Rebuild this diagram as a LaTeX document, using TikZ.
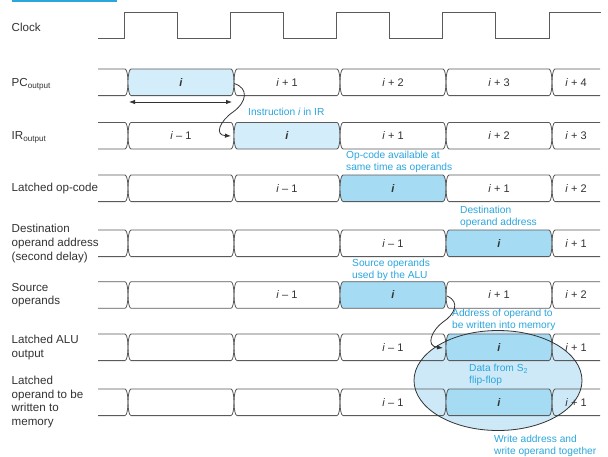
\documentclass[tikz,border=0pt]{standalone}
\usepackage{fontspec}
\setmainfont{Liberation Sans}
\usetikzlibrary{arrows.meta}
\definecolor{lineg}{HTML}{5A5A5A}
\definecolor{lightc}{HTML}{D3EDFA}
\definecolor{medc}{HTML}{A6DBF4}
\definecolor{ellc}{HTML}{CDE9F8}
\definecolor{bluet}{HTML}{2BA6DE}
\definecolor{txt}{HTML}{333333}
\tikzset{
  busline/.style={draw=lineg, line width=0.8pt},
  celltext/.style={text=txt, inner sep=0pt, font=\fontsize{11}{13}\selectfont},
  lab/.style={text=txt, inner sep=0pt, anchor=west, align=left, font=\fontsize{11.6}{13.8}\selectfont},
  note/.style={text=bluet, inner sep=0pt, anchor=west, align=left, font=\fontsize{10.2}{11.8}\selectfont},
  arr/.style={draw=txt, line width=0.8pt, -{Latex[length=6pt,width=4.5pt]}},
}
\newcommand\vi{\textit{i}}
\newcommand\vib{\textbf{\textit{i}}}
% interior cell: #1 left x, #2 right x, #3 mid y, #4 fill, #5 name, #6 text
\newcommand\midcell[6]{%
  \path[busline,fill=#4] ({#1+3},{#3-13.3}) -- ({#2-3},{#3-13.3})
    .. controls ({#2-1},{#3-13.3}) and (#2,{#3-6}) .. (#2,#3)
    .. controls (#2,{#3+6}) and ({#2-1},{#3+13.3}) .. ({#2-3},{#3+13.3})
    -- ({#1+3},{#3+13.3})
    .. controls ({#1+1},{#3+13.3}) and (#1,{#3+6}) .. (#1,#3)
    .. controls (#1,{#3-6}) and ({#1+1},{#3-13.3}) .. cycle;
  \node[celltext] (#5) at ({(#1+#2)/2},#3) {#6};
}
% first (open-left) cell: #1 right x, #2 mid y
\newcommand\firstcell[2]{%
  \draw[busline] (98,{#2-13.3}) -- ({#1-3},{#2-13.3})
    .. controls ({#1-1},{#2-13.3}) and (#1,{#2-6}) .. (#1,#2)
    .. controls (#1,{#2+6}) and ({#1-1},{#2+13.3}) .. ({#1-3},{#2+13.3})
    -- (98,{#2+13.3});
}
% last (open-right) cell: #1 left x, #2 mid y, #3 name, #4 text
\newcommand\lastcell[4]{%
  \draw[busline] (600,{#2-13.3}) -- ({#1+3},{#2-13.3})
    .. controls ({#1+1},{#2-13.3}) and (#1,{#2-6}) .. (#1,#2)
    .. controls (#1,{#2+6}) and ({#1+1},{#2+13.3}) .. ({#1+3},{#2+13.3})
    -- (600,{#2+13.3});
  \node[celltext] (#3) at ({(#1+600)/2},#2) {#4};
}
\begin{document}
\begin{tikzpicture}[x=1pt,y=-1pt]
\useasboundingbox (0,0) rectangle (608,456);
\fill[white] (0,0) rectangle (608,456);
\fill[bluet] (12,0) rectangle (117,2.2);

% ellipse background
\fill[ellc] (498,380.5) ellipse [x radius=84, y radius=50];

% clock
\draw[busline] (98,38.3) -- (124.5,38.3) -- (124.5,12.3) -- (177.5,12.3) -- (177.5,38.3)
  -- (230.7,38.3) -- (230.7,12.3) -- (283.5,12.3) -- (283.5,38.3)
  -- (336.3,38.3) -- (336.3,12.3) -- (389.5,12.3) -- (389.5,38.3)
  -- (442.3,38.3) -- (442.3,12.3) -- (495.7,12.3) -- (495.7,38.3)
  -- (549,38.3) -- (549,12.3) -- (600.5,12.3);

% PC output
\firstcell{128}{82.3}
\midcell{128}{234}{82.3}{lightc}{pc1}{\vib}
\midcell{234}{340}{82.3}{none}{pc2}{\vi{} + 1}
\midcell{340}{446}{82.3}{none}{pc3}{\vi{} + 2}
\midcell{446}{552}{82.3}{none}{pc4}{\vi{} + 3}
\lastcell{552}{82.3}{pc5}{\vi{} + 4}

% IR output
\firstcell{128}{135.7}
\midcell{128}{234}{135.7}{none}{ir1}{\vi{} – 1}
\midcell{234}{340}{135.7}{lightc}{ir2}{\vib}
\midcell{340}{446}{135.7}{none}{ir3}{\vi{} + 1}
\midcell{446}{552}{135.7}{none}{ir4}{\vi{} + 2}
\lastcell{552}{135.7}{ir5}{\vi{} + 3}

% Latched op-code
\firstcell{128}{188.3}
\midcell{128}{234}{188.3}{none}{op1}{}
\midcell{234}{340}{188.3}{none}{op2}{\vi{} – 1}
\midcell{340}{446}{188.3}{medc}{op3}{\vib}
\midcell{446}{552}{188.3}{none}{op4}{\vi{} + 1}
\lastcell{552}{188.3}{op5}{\vi{} + 2}

% Destination operand address
\firstcell{128}{243.3}
\midcell{128}{234}{243.3}{none}{ds1}{}
\midcell{234}{340}{243.3}{none}{ds2}{}
\midcell{340}{446}{243.3}{none}{ds3}{\vi{} – 1}
\midcell{446}{552}{243.3}{medc}{ds4}{\vib}
\lastcell{552}{243.3}{ds5}{\vi{} + 1}

% Source operands
\firstcell{128}{295}
\midcell{128}{234}{295}{none}{so1}{}
\midcell{234}{340}{295}{none}{so2}{\vi{} – 1}
\midcell{340}{446}{295}{medc}{so3}{\vib}
\midcell{446}{552}{295}{none}{so4}{\vi{} + 1}
\lastcell{552}{295}{so5}{\vi{} + 2}

% Latched ALU output
\firstcell{128}{347.3}
\midcell{128}{234}{347.3}{none}{al1}{}
\midcell{234}{340}{347.3}{none}{al2}{}
\midcell{340}{446}{347.3}{none}{al3}{\vi{} – 1}
\midcell{446}{552}{347.3}{medc}{al4}{\vib}
\lastcell{552}{347.3}{al5}{\vi{} + 1}

% Latched operand to be written to memory
\firstcell{128}{402.3}
\midcell{128}{234}{402.3}{none}{wm1}{}
\midcell{234}{340}{402.3}{none}{wm2}{}
\midcell{340}{446}{402.3}{none}{wm3}{\vi{} – 1}
\midcell{446}{552}{402.3}{medc}{wm4}{\vib}
\lastcell{552}{402.3}{wm5}{\vi{} + 1}

% ellipse outline
\draw[draw=txt, line width=0.8pt] (498,380.5) ellipse [x radius=84, y radius=50];

% left labels
\node[lab] (lclk) at (11.5,27.5) {Clock};
\node[lab] (lpc) at (11.5,84) {PC\textsubscript{output}};
\node[lab] (lir) at (11.5,137) {IR\textsubscript{output}};
\node[lab] (lop) at (11.5,188.3) {Latched op-code};
\node[lab] (lds) at (11.5,243.3) {Destination\\operand address\\(second delay)};
\node[lab] (lso) at (11.5,295.2) {Source\\operands};
\node[lab] (lal) at (11.5,347.5) {Latched ALU\\output};
\node[lab] (lwm) at (11.5,402) {Latched\\operand to be\\written to\\memory};

% blue notes
\node[note] (n1) at (248,112) {Instruction \vi{} in IR};
\node[note] (n2) at (346,161.5) {Op-code available at\\same time as operands};
\node[note] (n3) at (460,216.5) {Destination\\operand address};
\node[note] (n4) at (352,270) {Source operands\\used by the ALU};
\node[note] (n5) at (452,320) {Address of operand to\\be written into memory};
\node[note] (n6) at (469,375) {Data from S\textsubscript{2}\\flip-flop};
\node[note] (n7) at (494,445.5) {Write address and\\write operand together};

% arrows
\coordinate (d1) at (129,102);
\coordinate (d2) at (232,102);
\draw[arr, {Latex[length=6pt,width=4.5pt]}-{Latex[length=6pt,width=4.5pt]}] (d1) -- (d2);

\coordinate (a1s) at (234,83.5);
\coordinate (a1e) at (231,136);
\draw[arr] (a1s) .. controls (249,88) and (247,102) .. (233,112)
  .. controls (220,121) and (214,135) .. (a1e);

\coordinate (a2s) at (447,296);
\coordinate (a2e) at (443,348);
\draw[arr] (a2s) .. controls (461,302) and (454,315) .. (443,322)
  .. controls (432,330) and (425,346) .. (a2e);
\end{tikzpicture}
\end{document}
